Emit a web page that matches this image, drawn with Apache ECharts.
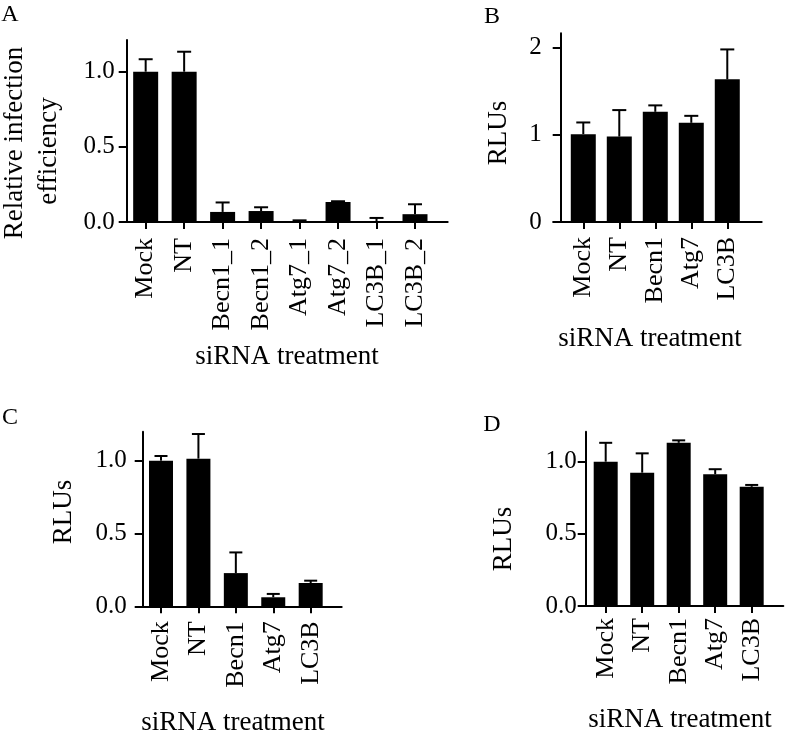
<!DOCTYPE html>
<html>
<head>
<meta charset="utf-8">
<script src="https://cdn.jsdelivr.net/npm/echarts@6/dist/echarts.min.js"></script>
<style>
html,body{margin:0;padding:0;background:#fff;}
#chart{width:787px;height:737px;}
</style>
</head>
<body>
<div id="chart"></div>
<script>
// ---- data ----
const categoriesA = ['Mock', 'NT', 'Becn1_1', 'Becn1_2', 'Atg7_1', 'Atg7_2', 'LC3B_1', 'LC3B_2'];
const meansA = [1.0, 1.0, 0.067, 0.073, 0.004, 0.133, 0.005, 0.052];
const errorsA = [0.083, 0.133, 0.063, 0.025, 0.007, 0.005, 0.022, 0.066];

const categoriesB = ['Mock', 'NT', 'Becn1', 'Atg7', 'LC3B'];
const meansB = [1.008, 0.98, 1.264, 1.138, 1.637];
const errorsB = [0.134, 0.304, 0.074, 0.08, 0.343];

const categoriesC = ['Mock', 'NT', 'Becn1', 'Atg7', 'LC3B'];
const meansC = [1.0, 1.014, 0.228, 0.062, 0.16];
const errorsC = [0.032, 0.169, 0.142, 0.023, 0.016];

const categoriesD = ['Mock', 'NT', 'Becn1', 'Atg7', 'LC3B'];
const meansD = [1.0, 0.924, 1.131, 0.913, 0.826];
const errorsD = [0.131, 0.134, 0.017, 0.035, 0.013];

const yTicksA = [0, 0.5, 1.0];
const yTickLabelsA = ['0.0', '0.5', '1.0'];
const yTicksB = [0, 1, 2];
const yTickLabelsB = ['0', '1', '2'];
const yTicksC = [0, 0.5, 1.0];
const yTickLabelsC = ['0.0', '0.5', '1.0'];
const yTicksD = [0, 0.5, 1.0];
const yTickLabelsD = ['0.0', '0.5', '1.0'];

const xTitle = 'siRNA treatment';
const yTitleA = ['Relative infection', 'efficiency'];
const yTitleRLU = 'RLUs';
const panelLetters = ['A', 'B', 'C', 'D'];

// ---- layout / style ----
const FONT = '"Liberation Serif", "DejaVu Serif", serif';
const BLACK = '#000';

const panels = [
  {cats: categoriesA, means: meansA, errs: errorsA, ticks: yTicksA, tickLabels: yTickLabelsA,
   grid: {left: 120.7, top: 40, width: 327, height: 182}, yOffset: -6, xMin: -0.649, xMax: 7.85, yMax: 1.211,
   yLabelMargin: 12, xLabelMargin: 16, barWidth: 25, cap: 14},
  {cats: categoriesB, means: meansB, errs: errorsB, ticks: yTicksB, tickLabels: yTickLabelsB,
   grid: {left: 553.3, top: 33.3, width: 208.4, height: 188.7}, yOffset: -7.4, xMin: -0.833, xMax: 4.956, yMax: 2.165,
   yLabelMargin: 19, xLabelMargin: 15, barWidth: 25, cap: 14},
  {cats: categoriesC, means: meansC, errs: errorsC, ticks: yTicksC, tickLabels: yTickLabelsC,
   grid: {left: 136, top: 431.7, width: 205.7, height: 174.6}, yOffset: -6.7, xMin: -0.668, xMax: 4.829, yMax: 1.199,
   yLabelMargin: 16, xLabelMargin: 15, barWidth: 24, cap: 13},
  {cats: categoriesD, means: meansD, errs: errorsD, ticks: yTicksD, tickLabels: yTickLabelsD,
   grid: {left: 580, top: 431.7, width: 203.3, height: 174.3}, yOffset: -5.7, xMin: -0.704, xMax: 4.866, yMax: 1.208,
   yLabelMargin: 9, xLabelMargin: 12, barWidth: 24, cap: 13}
];

const grids = [], xAxes = [], yAxes = [], series = [];
panels.forEach((p, k) => {
  grids.push(Object.assign({containLabel: false, outerBoundsMode: 'none'}, p.grid));
  const idx = p.cats.map((c, i) => i);
  xAxes.push({
    gridIndex: k, type: 'value', min: p.xMin, max: p.xMax,
    axisLine: {show: true, onZero: false, lineStyle: {color: BLACK, width: 2}},
    axisTick: {show: true, customValues: idx, length: 7, lineStyle: {color: BLACK, width: 2}},
    axisLabel: {show: true, customValues: idx, rotate: 90, margin: p.xLabelMargin,
      formatter: v => p.cats[Math.round(v)], color: BLACK, fontFamily: FONT, fontSize: 26},
    splitLine: {show: false}
  });
  yAxes.push({
    gridIndex: k, type: 'value', min: 0, max: p.yMax, offset: p.yOffset,
    axisLine: {show: true, onZero: false, lineStyle: {color: BLACK, width: 2}},
    axisTick: {show: true, customValues: p.ticks, length: 8, lineStyle: {color: BLACK, width: 2}},
    axisLabel: {show: true, customValues: p.ticks, margin: p.yLabelMargin,
      formatter: v => p.tickLabels[p.ticks.findIndex(t => Math.abs(t - v) < 1e-6)],
      color: BLACK, fontFamily: FONT, fontSize: 25},
    splitLine: {show: false}
  });
  series.push({
    type: 'bar', xAxisIndex: k, yAxisIndex: k, barWidth: p.barWidth,
    itemStyle: {color: BLACK},
    data: p.means.map((m, i) => [i, m]),
    z: 2
  });
  series.push({
    type: 'custom', xAxisIndex: k, yAxisIndex: k, z: 3,
    encode: {x: 0, y: 1},
    data: p.means.map((m, i) => [i, m, p.errs[i]]),
    renderItem: (params, api) => {
      const x = api.value(0), m = api.value(1), e = api.value(2);
      const base = api.coord([x, m]);
      const top = api.coord([x, m + e]);
      const st = {stroke: BLACK, lineWidth: 2};
      return {type: 'group', children: [
        {type: 'line', shape: {x1: base[0], y1: base[1], x2: top[0], y2: top[1]}, style: st},
        {type: 'line', shape: {x1: top[0] - p.cap / 2, y1: top[1], x2: top[0] + p.cap / 2, y2: top[1]}, style: st}
      ]};
    }
  });
});

function txt(text, x, y, size, rot) {
  return {type: 'text', x: x, y: y, rotation: rot ? Math.PI / 2 : 0,
    style: {text: text, fill: BLACK, font: size + 'px ' + FONT, align: 'center', verticalAlign: 'middle'}};
}

const graphics = [
  txt(panelLetters[0], 10, 15, 24),
  txt(panelLetters[1], 492, 17, 24),
  txt(panelLetters[2], 10, 418, 24),
  txt(panelLetters[3], 492, 425, 24),
  txt(xTitle, 287, 357, 27),
  txt(xTitle, 650, 339, 27),
  txt(xTitle, 233, 723, 27),
  txt(xTitle, 680, 720, 27),
  txt(yTitleA[0], 14.5, 143, 27, true),
  txt(yTitleA[1], 49, 151, 27, true),
  txt(yTitleRLU, 499, 133, 27, true),
  txt(yTitleRLU, 64, 512, 27, true),
  txt(yTitleRLU, 504, 539, 27, true)
];

const chart = echarts.init(document.getElementById('chart'), null, {renderer: 'canvas'});
chart.setOption({
  animation: false,
  backgroundColor: '#fff',
  grid: grids,
  xAxis: xAxes,
  yAxis: yAxes,
  series: series,
  graphic: graphics
});
</script>
</body>
</html>
